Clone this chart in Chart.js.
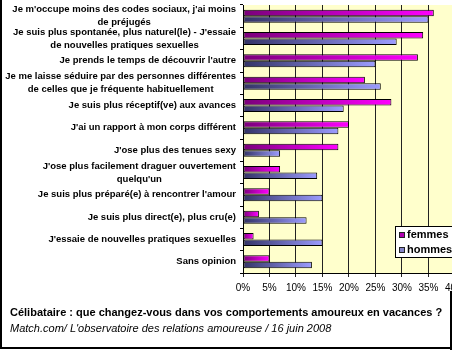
<!DOCTYPE html>
<html>
<head>
<meta charset="utf-8">
<script src="https://cdn.jsdelivr.net/npm/chart.js@4.4.1/dist/chart.umd.min.js"></script>
<style>
  body { margin: 0; background: #fff; }
  #wrap { position: relative; width: 452px; height: 350px; overflow: hidden; background: #fff; }
  #frame { position: absolute; left: 0; top: 0; width: 450px; height: 347px;
           border-left: 2px solid #000; border-bottom: 2px solid #000; box-sizing: content-box; }
  #rightEdge { position: absolute; left: 450px; top: 291px; width: 2px; height: 59px; background: #000; }
  #chart { position: absolute; left: 0; top: 0; }
  .caption { position: absolute; left: 10px; font-family: "Liberation Sans", Arial, sans-serif; font-size: 11px; color: #000; white-space: nowrap; }
  #title { top: 306px; font-weight: bold; }
  #source { top: 322px; font-style: italic; }
</style>
</head>
<body>
<div id="wrap">
  <canvas id="chart" width="470" height="296"></canvas>
  <div id="frame"></div>
  <div id="rightEdge"></div>
  <div id="title" class="caption">Célibataire : que changez-vous dans vos comportements amoureux en vacances ?</div>
  <div id="source" class="caption">Match.com/ L'observatoire des relations amoureuse / 16 juin 2008</div>
</div>
<script>
// categories (each label split on the lines the original wraps them)
const categories = [
  ["Je m'occupe moins des codes sociaux, j'ai moins", "de préjugés"],
  ["Je suis plus spontanée, plus naturel(le) - J'essaie", "de nouvelles pratiques sexuelles"],
  ["Je prends le temps de découvrir l'autre"],
  ["Je me laisse séduire par des personnes différentes", "de celles que je fréquente habituellement"],
  ["Je suis plus réceptif(ve) aux avances"],
  ["J'ai un rapport à mon corps différent"],
  ["J'ose plus des tenues sexy"],
  ["J'ose plus facilement draguer ouvertement", "quelqu'un"],
  ["Je suis plus préparé(e) à rencontrer l'amour"],
  ["Je suis plus direct(e), plus cru(e)"],
  ["J'essaie de nouvelles pratiques sexuelles"],
  ["Sans opinion"]
];

// percentages
const femmes = [36, 34, 33, 23, 28, 20, 18, 7, 5, 3, 2, 5];
const hommes = [35, 29, 25, 26, 19, 18, 7, 14, 15, 12, 15, 13];

const xTicks = [0, 5, 10, 15, 20, 25, 30, 35, 40];

const labelFont = 'bold 9.5px "Liberation Sans", Arial, sans-serif';
Chart.defaults.font.family = '"Liberation Sans", Arial, sans-serif';
Chart.defaults.color = '#000';

// horizontal gradient running from 0% to the end of each bar
function barGradient(dark, light) {
  return function (context) {
    const chart = context.chart;
    const x = chart.scales.x;
    if (!x || typeof context.raw !== 'number') return light;
    const start = x.getPixelForValue(0);
    const end = x.getPixelForValue(context.raw);
    if (!isFinite(start) || !isFinite(end) || end <= start) return light;
    const g = chart.ctx.createLinearGradient(start, 0, end, 0);
    g.addColorStop(0, dark);
    g.addColorStop(1, light);
    return g;
  };
}

// yellow plot background
const plotBackground = {
  id: 'plotBackground',
  beforeDraw(chart) {
    const a = chart.chartArea;
    const ctx = chart.ctx;
    ctx.save();
    ctx.fillStyle = '#ffffcc';
    ctx.fillRect(a.left, a.top, a.right - a.left, a.bottom - a.top);
    ctx.restore();
  }
};

// category labels: blocks right aligned, wrapped lines centred like the original
const categoryLabels = {
  id: 'categoryLabels',
  afterDraw(chart) {
    const y = chart.scales.y;
    const ctx = chart.ctx;
    const right = y.right - 7;
    const lineHeight = 13;
    ctx.save();
    ctx.font = labelFont;
    ctx.fillStyle = '#000';
    ctx.textAlign = 'center';
    ctx.textBaseline = 'middle';
    categories.forEach((lines, i) => {
      const cy = y.getPixelForValue(i);
      const widest = Math.max(...lines.map(l => ctx.measureText(l).width));
      const cx = right - widest / 2;
      lines.forEach((line, k) => {
        ctx.fillText(line, cx, cy + (k - (lines.length - 1) / 2) * lineHeight);
      });
    });
    ctx.restore();
  }
};

// small boxed legend sitting inside the plot, cut by the right edge
const boxLegend = {
  id: 'boxLegend',
  afterDraw(chart) {
    const ctx = chart.ctx;
    const sw = ['#b000b0', '#8484c8'];
    ctx.save();
    ctx.fillStyle = '#fff';
    ctx.strokeStyle = '#000';
    ctx.lineWidth = 1;
    ctx.fillRect(395.5, 226.5, 70, 31);
    ctx.strokeRect(395.5, 226.5, 70, 31);
    ctx.font = 'bold 11px "Liberation Sans", Arial, sans-serif';
    ctx.textBaseline = 'middle';
    chart.data.datasets.forEach((ds, i) => {
      const cy = 235 + i * 15;
      ctx.fillStyle = sw[i];
      ctx.fillRect(399.5, cy - 2.5, 5, 5);
      ctx.strokeStyle = '#222';
      ctx.strokeRect(399.5, cy - 2.5, 5, 5);
      ctx.fillStyle = '#000';
      ctx.textAlign = 'left';
      ctx.fillText(ds.label, 407, cy);
    });
    ctx.restore();
  }
};

new Chart(document.getElementById('chart').getContext('2d'), {
  type: 'bar',
  data: {
    labels: categories.map(c => c.join(' ')),
    datasets: [
      {
        label: 'femmes',
        data: femmes,
        backgroundColor: barGradient('#7a007a', '#ff00ff'),
        borderColor: '#000',
        borderWidth: 1,
        borderSkipped: false
      },
      {
        label: 'hommes',
        data: hommes,
        backgroundColor: barGradient('#333366', '#9c9cff'),
        borderColor: '#000',
        borderWidth: 1,
        borderSkipped: false
      }
    ]
  },
  options: {
    indexAxis: 'y',
    responsive: false,
    animation: false,
    devicePixelRatio: 1,
    categoryPercentage: 0.58,
    barPercentage: 1,
    layout: { padding: { top: 5, right: 10, bottom: 0, left: 0 } },
    plugins: {
      legend: { display: false },
      tooltip: { enabled: false }
    },
    scales: {
      x: {
        min: 0,
        max: 40,
        afterBuildTicks(scale) {
          scale.ticks = xTicks.map(v => ({ value: v }));
        },
        afterFit(scale) { scale.height = 23; },
        ticks: {
          padding: 5,
          font: { size: 10 },
          color: '#000',
          callback: v => v + '%'
        },
        grid: { color: '#222', lineWidth: 1, tickLength: 4 },
        border: { color: '#000', width: 1 }
      },
      y: {
        afterFit(scale) { scale.width = 243; },
        ticks: { display: false },
        grid: {
          drawOnChartArea: false,
          tickLength: 3,
          color: '#000',
          offset: true
        },
        border: { color: '#000', width: 1 }
      }
    }
  },
  plugins: [plotBackground, categoryLabels, boxLegend]
});
</script>
</body>
</html>
